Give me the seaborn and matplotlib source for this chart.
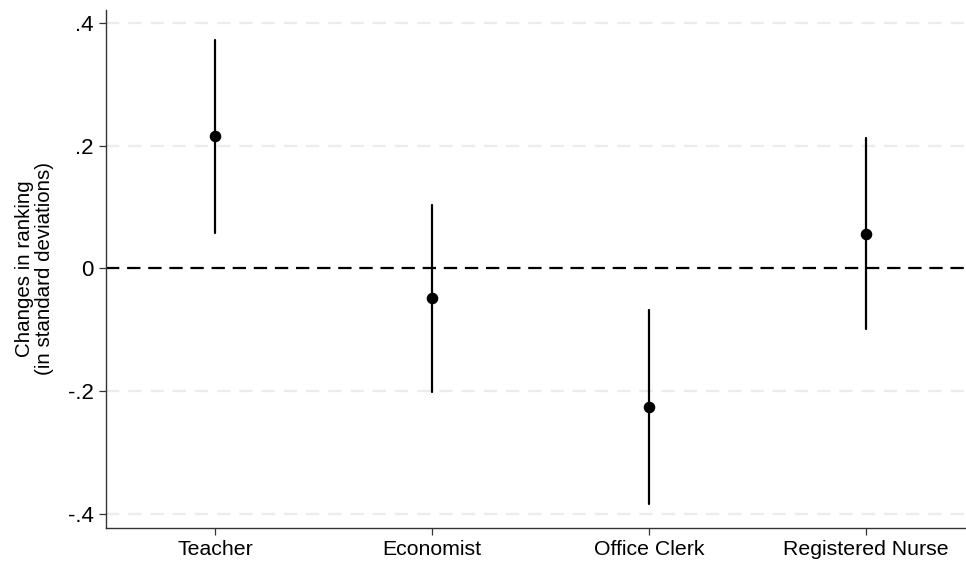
import matplotlib
matplotlib.use("Agg")
import matplotlib.pyplot as plt
import seaborn as sns
import pandas as pd

categories = ["Teacher", "Economist", "Office Clerk", "Registered Nurse"]
estimates = [0.215, -0.049, -0.226, 0.056]
ci_low = [0.058, -0.201, -0.384, -0.099]
ci_high = [0.372, 0.103, -0.068, 0.212]
yticks = [-0.4, -0.2, 0.0, 0.2, 0.4]
ytick_labels = ["-.4", "-.2", "0", ".2", ".4"]

sns.set_theme(style="white")
plt.rcParams["font.family"] = ["Liberation Sans", "DejaVu Sans"]

rows = []
for c, lo, e, hi in zip(categories, ci_low, estimates, ci_high):
    for v in (lo, e, hi):
        rows.append({"occupation": c, "value": v})
df = pd.DataFrame(rows)

fig = plt.figure(figsize=(9.66, 5.66), dpi=100)
ax = fig.add_axes([0.1097, 0.0677, 0.8903, 0.9146])

for t in yticks:
    if t != 0:
        ax.axhline(t, color="#ececec", lw=1.6, ls=(0, (6, 4)), zorder=0)
ax.axhline(0, color="black", lw=1.6, ls=(0, (6, 3.5)), zorder=1)

sns.pointplot(data=df, x="occupation", y="value", order=categories,
              estimator="median", errorbar=("pi", 100), linestyle="none",
              color="black", markers="o", markersize=6.3,
              err_kws={"linewidth": 1.6}, ax=ax, zorder=3)

ax.set_xlim(-0.502, 3.46)
ax.set_ylim(-0.423, 0.421)
ax.set_yticks(yticks)
ax.set_yticklabels(ytick_labels)
ax.set_xlabel("")
ax.set_ylabel("Changes in ranking\n(in standard deviations)", fontsize=14.8,
              linespacing=1.08, labelpad=10, color="black")

for s in ["top", "right"]:
    ax.spines[s].set_visible(False)
for s in ["left", "bottom"]:
    ax.spines[s].set_color("#333333")
    ax.spines[s].set_linewidth(1.0)

ax.tick_params(axis="both", which="major", direction="out", length=5,
               width=0.9, color="#333333", labelsize=15.3, pad=4,
               labelcolor="black", left=True, bottom=True)
ax.tick_params(axis="y", labelsize=16)

fig.savefig("out.png", dpi=100)
